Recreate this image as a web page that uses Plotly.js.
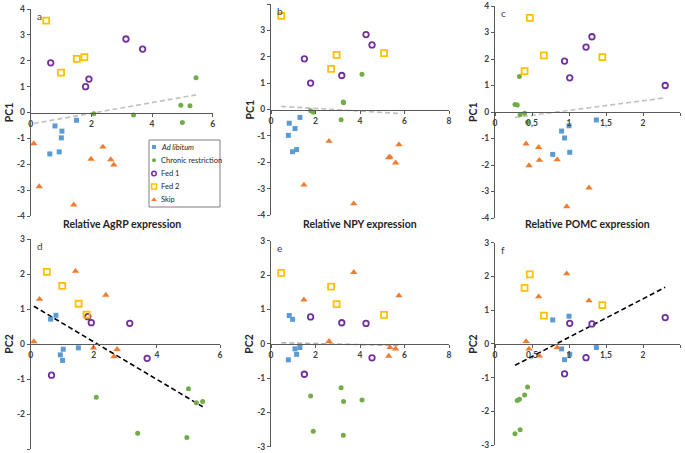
<!DOCTYPE html>
<html>
<head>
<meta charset="utf-8">
<script src="https://cdn.plot.ly/plotly-3.0.1.min.js"></script>
<style>html,body{margin:0;padding:0;background:#fff;}#chart{width:685px;height:453px;}</style>
</head>
<body>
<div id="chart"></div>
<script>
// ---------------- DATA ----------------
// Ad libitum
const adlibPC1  = [-0.30, -0.52, -0.72, -0.98, -1.60, -1.52];
const adlibPC2  = [-0.11,  0.82, -0.15, -0.47,  0.71, -0.31];
const adlibAgRP = [ 1.51,  0.80,  1.03,  1.01,  0.63,  0.94];
const adlibNPY  = [ 1.30,  0.82,  1.08,  0.78,  0.97,  1.15];
const adlibPOMC = [ 1.37,  1.00,  0.90,  0.94,  0.78,  1.01];
// Chronic restriction
const chronPC1  = [ 1.34,  0.28,  0.26, -0.39, -0.10, -0.05];
const chronPC2  = [-1.64, -2.67, -1.68, -1.28, -2.55, -1.52];
const chronAgRP = [ 5.45,  4.95,  5.25,  5.00,  3.39,  2.08];
const chronNPY  = [ 4.09,  3.25,  3.26,  3.15,  1.90,  1.78];
const chronPOMC = [ 0.33,  0.27,  0.30,  0.44,  0.34,  0.40];
// Fed 1
const fed1PC1  = [ 1.92,  2.84,  2.45,  1.29,  1.00];
const fed1PC2  = [-0.89,  0.59, -0.41,  0.61,  0.78];
const fed1AgRP = [ 0.66,  3.14,  3.69,  1.92,  1.81];
const fed1NPY  = [ 1.50,  4.27,  4.54,  3.18,  1.78];
const fed1POMC = [ 0.94,  1.31,  1.23,  1.01,  2.30];
// Fed 2
const fed2PC1  = [ 3.55,  1.54,  2.07,  2.14];
const fed2PC2  = [ 2.06,  1.66,  1.15,  0.84];
const fed2AgRP = [ 0.51,  1.00,  1.52,  1.77];
const fed2NPY  = [ 0.46,  2.70,  2.95,  5.08];
const fed2POMC = [ 0.47,  0.40,  1.45,  0.66];
// Skip
const skipPC1  = [-1.20, -2.86, -3.57, -1.80, -1.33, -1.82, -2.02];
const skipPC2  = [ 0.07,  1.28,  2.08, -0.11,  1.40, -0.36, -0.15];
const skipAgRP = [ 0.10,  0.28,  1.42,  1.99,  2.38,  2.64,  2.74];
const skipNPY  = [ 2.61,  1.48,  3.72,  5.35,  5.75,  5.29,  5.60];
const skipPOMC = [ 0.42,  1.27,  0.97,  0.84,  0.59,  0.60,  0.46];

const groupNames = ['<i>Ad libitum</i>', 'Chronic restriction', 'Fed 1', 'Fed 2', 'Skip'];
const panelLetters = ['a', 'b', 'c', 'd', 'e', 'f'];
const geneTitles = ['Relative AgRP expression', 'Relative NPY expression', 'Relative POMC expression'];
const pcTitles = ['PC1', 'PC2'];
const ticksAgRP = [0, 2, 4, 6];
const ticksNPY = [0, 2, 4, 6, 8];
const ticksPOMC = [0, 0.5, 1, 1.5, 2, 2.5];
const ticksPOMCText = ['0', '0,5', '1', '1,5', '2', '2,5'];
const ticksPC1 = [-4, -3, -2, -1, 0, 1, 2, 3, 4];
const ticksPC2 = [-3, -2, -1, 0, 1, 2, 3];

// ---------------- STYLE ----------------
const W = 685, H = 453;
const FONT = 'Lato, "Open Sans", "DejaVu Sans", sans-serif';
const AX = '#595959';
const groups = [
  {name: groupNames[0], pc1: adlibPC1, pc2: adlibPC2, g: [adlibAgRP, adlibNPY, adlibPOMC],
   marker: {symbol: 'square', size: 5, color: '#5b9bd5'}, lmarker: {symbol: 'square', size: 4, color: '#5b9bd5'}},
  {name: groupNames[1], pc1: chronPC1, pc2: chronPC2, g: [chronAgRP, chronNPY, chronPOMC],
   marker: {symbol: 'circle', size: 5, color: '#70ad47'}, lmarker: {symbol: 'circle', size: 4, color: '#70ad47'}},
  {name: groupNames[2], pc1: fed1PC1, pc2: fed1PC2, g: [fed1AgRP, fed1NPY, fed1POMC],
   marker: {symbol: 'circle-open', size: 5.5, color: '#7030a0', line: {width: 1.8, color: '#7030a0'}},
   lmarker: {symbol: 'circle-open', size: 4.5, color: '#7030a0', line: {width: 1.5, color: '#7030a0'}}},
  {name: groupNames[3], pc1: fed2PC1, pc2: fed2PC2, g: [fed2AgRP, fed2NPY, fed2POMC],
   marker: {symbol: 'square-open', size: 6, color: '#ffc000', line: {width: 1.8, color: '#ffc000'}},
   lmarker: {symbol: 'square-open', size: 5, color: '#ffc000', line: {width: 1.5, color: '#ffc000'}}},
  {name: groupNames[4], pc1: skipPC1, pc2: skipPC2, g: [skipAgRP, skipNPY, skipPOMC],
   marker: {symbol: 'triangle-up', size: 6.5, color: '#ed7d31'}, lmarker: {symbol: 'triangle-up', size: 5, color: '#ed7d31'}}
];

// panel geometry in pixels: [xLeft, xRight, yTop, yBottom]
const panels = [
  {px: [30.7, 212.7,   9, 216], gene: 0, pc: 0, xr: [0, 6],   xt: ticksAgRP, trend: '#c0c0c0'},
  {px: [271,  449,     4, 215], gene: 1, pc: 0, xr: [0, 8],   xt: ticksNPY,  trend: '#c0c0c0'},
  {px: [495,  680,     6, 218], gene: 2, pc: 0, xr: [0, 2.5], xt: ticksPOMC, xtt: ticksPOMCText, trend: '#c0c0c0'},
  {px: [30.7, 220,   239, 449], gene: 0, pc: 1, xr: [0, 6],   xt: ticksAgRP, trend: '#000000'},
  {px: [271,  449, 240.7, 446.7], gene: 1, pc: 1, xr: [0, 8], xt: ticksNPY,  trend: '#b0b0b0'},
  {px: [495,  680, 242.7, 445], gene: 2, pc: 1, xr: [0, 2.5], xt: ticksPOMC, xtt: ticksPOMCText, trend: '#000000'}
];

function fit(xs, ys) {
  const n = xs.length;
  const mx = xs.reduce((a, b) => a + b, 0) / n;
  const my = ys.reduce((a, b) => a + b, 0) / n;
  let sxy = 0, sxx = 0;
  for (let i = 0; i < n; i++) { sxy += (xs[i] - mx) * (ys[i] - my); sxx += (xs[i] - mx) ** 2; }
  const b = sxy / sxx, a = my - b * mx;
  const x0 = Math.min(...xs), x1 = Math.max(...xs);
  return {x: [x0, x1], y: [a + b * x0, a + b * x1]};
}

const traces = [];
const layout = {
  width: W, height: H, margin: {l: 0, r: 0, t: 0, b: 0},
  paper_bgcolor: '#fff', plot_bgcolor: 'rgba(0,0,0,0)',
  font: {family: FONT, size: 8, color: '#404040'},
  showlegend: false, annotations: [], shapes: []
};

panels.forEach((p, i) => {
  const k = i + 1;
  const xa = 'x' + (k === 1 ? '' : k), ya = 'y' + (k === 1 ? '' : k);
  const xkey = 'xaxis' + (k === 1 ? '' : k), ykey = 'yaxis' + (k === 1 ? '' : k);
  const yd = [1 - p.px[3] / H, 1 - p.px[2] / H];
  const yt = p.pc === 0 ? ticksPC1 : ticksPC2;
  const yr = p.pc === 0 ? [-4, 4] : [-3, 3];
  layout[xkey] = {
    domain: [p.px[0] / W, p.px[1] / W], range: p.xr, anchor: 'free', position: (yd[0] + yd[1]) / 2,
    showgrid: false, zeroline: false, showline: true, linecolor: AX, linewidth: 1,
    ticks: 'outside', ticklen: 3, tickcolor: AX, tickvals: p.xt, ticktext: p.xtt || p.xt.map(String),
    tickfont: {family: FONT, size: 8.5, color: '#404040', weight: 'bold'}, fixedrange: true
  };
  layout[ykey] = {
    domain: yd, range: yr, anchor: xa,
    showgrid: false, zeroline: false, showline: true, linecolor: AX, linewidth: 1,
    ticks: 'outside', ticklen: 3, tickcolor: AX, tickvals: yt, ticktext: yt.map(v => String(v)),
    tickfont: {family: FONT, size: 8.5, color: '#404040', weight: 'bold'}, fixedrange: true
  };
  // trend line from all animals
  const allX = [], allY = [];
  groups.forEach(g => { g.g[p.gene].forEach(v => allX.push(v)); (p.pc === 0 ? g.pc1 : g.pc2).forEach(v => allY.push(v)); });
  const t = fit(allX, allY);
  traces.push({x: t.x, y: t.y, xaxis: xa, yaxis: ya, mode: 'lines', hoverinfo: 'skip',
    line: {color: p.trend, width: 1.6, dash: '5px,3px'}, showlegend: false});
  groups.forEach(g => {
    traces.push({
      x: g.g[p.gene], y: p.pc === 0 ? g.pc1 : g.pc2, xaxis: xa, yaxis: ya,
      type: 'scatter', mode: 'markers', name: g.name, marker: g.marker, cliponaxis: false, showlegend: false
    });
  });
  // panel letter
  layout.annotations.push({xref: 'paper', yref: 'paper', x: (p.px[0] + 4) / W, y: 1 - (p.px[2] - 1) / H,
    xanchor: 'left', yanchor: 'top', text: panelLetters[i], showarrow: false,
    font: {family: FONT, size: 10, color: '#404040'}});
  // y axis title
  layout.annotations.push({xref: 'paper', yref: 'paper', x: (p.px[0] - 22) / W, y: (yd[0] + yd[1]) / 2,
    xanchor: 'center', yanchor: 'middle', text: pcTitles[p.pc], textangle: -90, showarrow: false,
    font: {family: FONT, size: 10.5, color: '#262626', weight: 'bold'}});
  // x axis title (top row only)
  if (p.pc === 0) {
    layout.annotations.push({xref: 'paper', yref: 'paper', x: ((p.px[0] + p.px[1]) / 2) / W, y: 1 - 224 / H,
      xanchor: 'center', yanchor: 'middle', text: geneTitles[p.gene], showarrow: false,
      font: {family: FONT, size: 10.5, color: '#262626', weight: 'bold'}});
  }
});

// ---------------- manual legend inside panel a ----------------
const LG = {x0: 149, x1: 220, y0: 140, y1: 207, rowTop: 147, rowStep: 13.2, mx: 154, tx: 158.5};
layout.shapes.push({type: 'rect', xref: 'paper', yref: 'paper',
  x0: LG.x0 / W, x1: LG.x1 / W, y0: 1 - LG.y1 / H, y1: 1 - LG.y0 / H,
  line: {color: '#7f7f7f', width: 1}, fillcolor: '#ffffff', layer: 'below'});
layout.xaxis7 = {domain: [LG.x0 / W, LG.x1 / W], range: [LG.x0, LG.x1], visible: false, fixedrange: true};
layout.yaxis7 = {domain: [1 - LG.y1 / H, 1 - LG.y0 / H], range: [LG.y1, LG.y0], visible: false, fixedrange: true};
groups.forEach((g, i) => {
  const yy = LG.rowTop + i * LG.rowStep;
  traces.push({x: [LG.mx], y: [yy], xaxis: 'x7', yaxis: 'y7', mode: 'markers', marker: g.lmarker,
    hoverinfo: 'skip', showlegend: false, cliponaxis: false});
  layout.annotations.push({xref: 'paper', yref: 'paper', x: LG.tx / W, y: 1 - yy / H,
    xanchor: 'left', yanchor: 'middle', text: g.name, showarrow: false,
    font: {family: FONT, size: 7.5, color: '#262626'}});
});

Plotly.newPlot('chart', traces, layout, {displayModeBar: false, staticPlot: true});
</script>
</body>
</html>
